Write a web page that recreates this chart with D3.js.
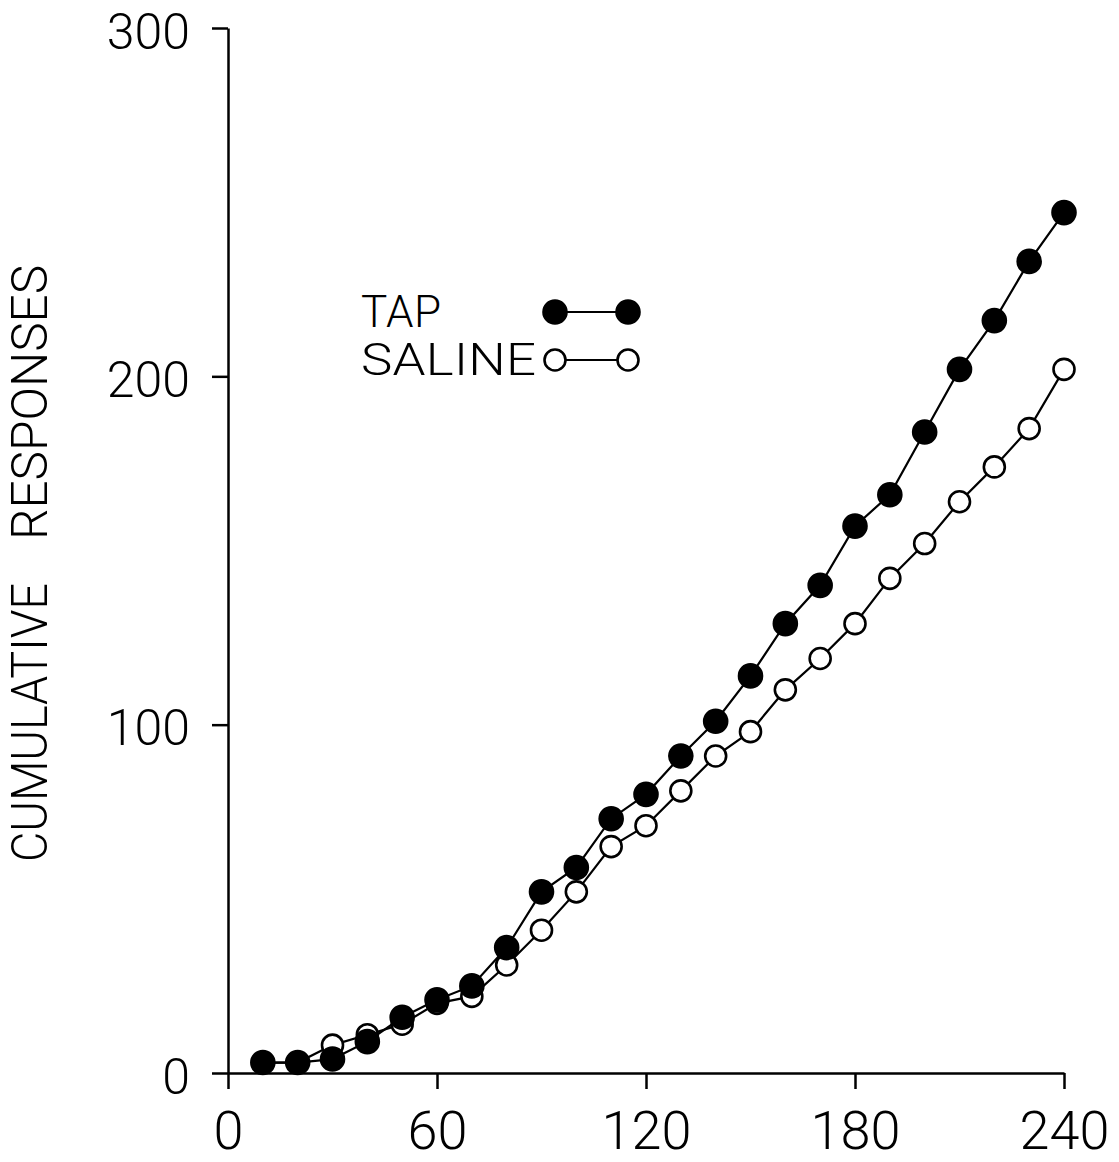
<!DOCTYPE html>
<html>
<head>
	<meta charset="utf-8">
	<title>Cumulative responses</title>
	<script src="https://cdn.jsdelivr.net/npm/d3@7"></script>
	<style type="text/css">
		body {
			margin: 0;
			background: #fff;
		}
		svg {
			display: block;
		}
		.axis path, .axis line {
			stroke: #000;
			stroke-width: 2.5;
		}
		.axis text, .label {
			font-family: Roboto, "Liberation Sans", sans-serif;
			font-weight: 300;
			fill: #000;
		}
	</style>
</head>
<body>
<div id="chart"></div>
<script>
	// minutes (x) and cumulative responses for each group
	var minutes = [10, 20, 30, 40, 50, 60, 70, 80, 90, 100, 110, 120,
		130, 140, 150, 160, 170, 180, 190, 200, 210, 220, 230, 240];
	var tap = [3, 3, 4, 9, 16, 21, 25, 36, 52, 59, 73, 80,
		91, 101, 114, 129, 140, 157, 166, 184, 202, 216, 233, 247];
	var saline = [3, 3, 8, 11, 14, 20, 22, 31, 41, 52, 65, 71,
		81, 91, 98, 110, 119, 129, 142, 152, 164, 174, 185, 202];
	var xTicks = [0, 60, 120, 180, 240];
	var yTicks = [0, 100, 200, 300];

	var width = 1119, height = 1162;
	var margin = {top: 28, left: 228, bottom: 89, right: 55};

	var svg = d3.select("#chart").append("svg")
		.attr("width", width)
		.attr("height", height);

	var x = d3.scaleLinear()
		.domain([0, 240])
		.range([margin.left, width - margin.right]);

	var y = d3.scaleLinear()
		.domain([0, 300])
		.range([height - margin.bottom, margin.top]);

	// axes
	var xAxis = svg.append("g")
		.attr("class", "axis")
		.attr("transform", "translate(0," + y(0) + ")")
		.call(d3.axisBottom(x).tickValues(xTicks).tickSize(16).tickSizeOuter(0).tickPadding(22));
	xAxis.selectAll("text").style("font-size", "54px");

	var yAxis = svg.append("g")
		.attr("class", "axis")
		.attr("transform", "translate(" + x(0) + ",0)")
		.call(d3.axisLeft(y).tickValues(yTicks).tickSize(16).tickSizeOuter(0).tickPadding(22));
	yAxis.selectAll("text")
		.style("font-size", "50px")
		.attr("dy", "0.4em");

	// axis title, two words with a wide gap
	var titleWords = [
		{text: "CUMULATIVE", start: 862, len: 279},
		{text: "RESPONSES", start: 540, len: 275}
	];
	titleWords.forEach(function(w) {
		svg.append("text")
			.attr("class", "label")
			.attr("transform", "translate(47," + w.start + ") rotate(-90)")
			.attr("textLength", w.len)
			.attr("lengthAdjust", "spacingAndGlyphs")
			.style("font-size", "50px")
			.text(w.text);
	});

	var line = d3.line()
		.x(function(d) { return x(d[0]); })
		.y(function(d) { return y(d[1]); });

	var series = [
		{name: "SALINE", values: d3.zip(minutes, saline), fill: "#fff"},
		{name: "TAP", values: d3.zip(minutes, tap), fill: "#000"}
	];

	series.forEach(function(s) {
		svg.append("path")
			.datum(s.values)
			.attr("d", line)
			.attr("fill", "none")
			.attr("stroke", "#000")
			.attr("stroke-width", 2.2);
	});

	series.forEach(function(s) {
		svg.selectAll(".pt-" + s.name)
			.data(s.values)
			.enter()
			.append("circle")
			.attr("class", "pt-" + s.name)
			.attr("cx", function(d) { return x(d[0]); })
			.attr("cy", function(d) { return y(d[1]); })
			.attr("r", s.fill == "#000" ? 11.5 : 10.5)
			.attr("fill", s.fill)
			.attr("stroke", "#000")
			.attr("stroke-width", 2.6);
	});

	// legend
	var legend = [
		{name: "TAP", fill: "#000", y: 312, textLength: 80, stretch: 1},
		{name: "SALINE", fill: "#fff", y: 360, textLength: 175, stretch: 1.2}
	];

	legend.forEach(function(l) {
		svg.append("text")
			.attr("class", "label")
			.attr("transform", "translate(361," + (l.y + 15) + ") scale(" + l.stretch + ",1)")
			.attr("textLength", l.textLength / l.stretch)
			.attr("lengthAdjust", "spacing")
			.style("font-size", "44px")
			.text(l.name);

		svg.append("line")
			.attr("x1", 555).attr("x2", 628)
			.attr("y1", l.y).attr("y2", l.y)
			.attr("stroke", "#000")
			.attr("stroke-width", 2.2);

		svg.selectAll(".lg-" + l.name)
			.data([555, 628])
			.enter()
			.append("circle")
			.attr("cx", function(d) { return d; })
			.attr("cy", l.y)
			.attr("r", l.fill == "#000" ? 11.5 : 10.5)
			.attr("fill", l.fill)
			.attr("stroke", "#000")
			.attr("stroke-width", 2.6);
	});
</script>
</body>
</html>
